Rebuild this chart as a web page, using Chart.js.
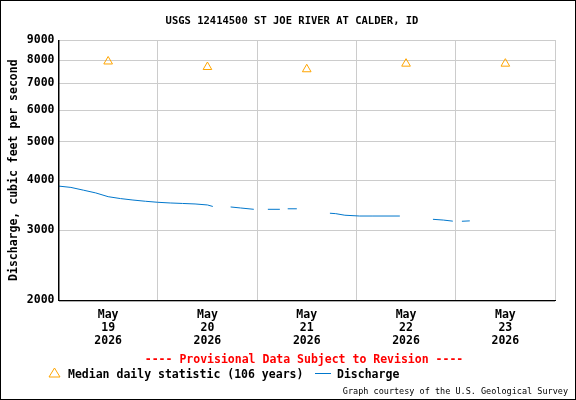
<!DOCTYPE html>
<html>
<head>
<meta charset="utf-8">
<script src="https://cdn.jsdelivr.net/npm/chart.js@4"></script>
<style>
  html, body { margin: 0; padding: 0; background: #fff; }
  #wrap { width: 574px; height: 398px; border: 1px solid #000; }
</style>
</head>
<body>
<div id="wrap"><canvas id="chart" width="574" height="398"></canvas></div>
<script>
// hours since May 19 00:00, null = gap in record
const dischargeHours = [0, 3, 6, 9, 12, 15, 18, 21, 24, 27, 30, 33, 36, 37.3, 39,
  41.6, 44, 47.2, 49, 50.6, 53.5, 54.5, 55.4, 57.6, 61,
  65.6, 67, 69.2, 72.8, 76, 82.5, 86, 90.5, 93, 95.3, 96.5, 97.5, 99.4];
const dischargeValues = [3870, 3840, 3780, 3720, 3640, 3600, 3570, 3545, 3524, 3510, 3500, 3490, 3470, 3440, null,
  3430, 3410, 3384, null, 3384, 3384, null, 3394, 3394, null,
  3308, 3300, 3270, 3255, 3255, 3255, null, 3194, 3180, 3160, null, 3158, 3165];
const medianHours = [12, 36, 60, 84, 108];
const medianValues = [7950, 7700, 7600, 7850, 7850];
const dayLabels = [['May', '19', '2026'], ['May', '20', '2026'], ['May', '21', '2026'], ['May', '22', '2026'], ['May', '23', '2026']];
const yTicks = [2000, 3000, 4000, 5000, 6000, 7000, 8000, 9000];

const FONT = 'DejaVu Sans Mono';

const extras = {
    id: 'extras',
    afterDraw(chart) {
        const ctx = chart.ctx;
        const a = chart.chartArea;
        ctx.save();
        ctx.strokeStyle = '#000';
        ctx.lineWidth = 1;
        ctx.beginPath();
        ctx.moveTo(a.left + 0.5, a.top);
        ctx.lineTo(a.left + 0.5, a.bottom + 0.5);
        ctx.lineTo(a.right, a.bottom + 0.5);
        ctx.stroke();
        ctx.fillStyle = '#000';
        ctx.font = 'bold 10.5px ' + FONT;
        ctx.textAlign = 'center';
        ctx.fillText('USGS 12414500 ST JOE RIVER AT CALDER, ID', 291, 23);
        ctx.fillStyle = '#ff0000';
        ctx.font = 'bold 11.5px ' + FONT;
        ctx.fillText('---- Provisional Data Subject to Revision ----', 303, 362);
        // legend
        ctx.fillStyle = '#000';
        ctx.textAlign = 'left';
        ctx.fillText('Median daily statistic (106 years)', 67, 377);
        ctx.fillText('Discharge', 336, 377);
        ctx.strokeStyle = '#ffa500';
        ctx.beginPath();
        ctx.moveTo(48, 376); ctx.lineTo(53.5, 367); ctx.lineTo(59, 376); ctx.closePath();
        ctx.stroke();
        ctx.strokeStyle = '#0077cc';
        ctx.beginPath();
        ctx.moveTo(314, 372.5); ctx.lineTo(330, 372.5);
        ctx.stroke();
        ctx.fillStyle = '#000';
        ctx.font = '8.5px ' + FONT;
        ctx.textAlign = 'right';
        ctx.fillText('Graph courtesy of the U.S. Geological Survey', 567, 393);
        ctx.restore();
    }
};

new Chart(document.getElementById('chart'), {
    type: 'scatter',
    data: {
        datasets: [{
            label: 'Discharge',
            data: dischargeHours.map((h, i) => ({ x: h, y: dischargeValues[i] })),
            showLine: true,
            spanGaps: false,
            borderColor: '#0077cc',
            borderWidth: 1,
            pointRadius: 0
        }, {
            label: 'Median daily statistic (106 years)',
            data: medianHours.map((h, i) => ({ x: h, y: medianValues[i] })),
            pointStyle: 'triangle',
            pointRadius: 5,
            borderColor: '#ffa500',
            backgroundColor: 'rgba(0,0,0,0)',
            borderWidth: 1
        }]
    },
    options: {
        responsive: false,
        animation: false,
        layout: { padding: { top: 39, right: 20, left: 6, bottom: 43 } },
        plugins: { legend: { display: false }, tooltip: { enabled: false } },
        scales: {
            x: {
                type: 'linear',
                min: 0,
                max: 120,
                afterBuildTicks: axis => {
                    axis.ticks = [];
                    for (let h = 0; h <= 120; h += 12) axis.ticks.push({ value: h });
                },
                grid: {
                    color: c => (c.tick && c.tick.value % 24 === 0 ? '#cccccc' : 'rgba(0,0,0,0)'),
                    drawTicks: false
                },
                border: { color: '#000' },
                ticks: {
                    autoSkip: false,
                    maxRotation: 0,
                    padding: 8,
                    color: '#000',
                    font: { family: FONT, size: 11.5, weight: 'bold', lineHeight: 1.15 },
                    callback: v => (v % 24 === 12 ? dayLabels[(v - 12) / 24] : '')
                }
            },
            y: {
                type: 'logarithmic',
                min: 2000,
                max: 9000,
                afterBuildTicks: axis => { axis.ticks = yTicks.map(v => ({ value: v })); },
                grid: { color: '#cccccc', drawTicks: false },
                border: { color: '#000' },
                ticks: {
                    padding: 4,
                    color: '#000',
                    font: { family: FONT, size: 11.5, weight: 'bold' },
                    callback: v => String(v)
                },
                title: {
                    display: true,
                    text: 'Discharge, cubic feet per second',
                    color: '#000',
                    padding: { top: 0, bottom: 2 },
                    font: { family: FONT, size: 11.5, weight: 'bold' }
                }
            }
        }
    },
    plugins: [extras]
});
</script>
</body>
</html>
